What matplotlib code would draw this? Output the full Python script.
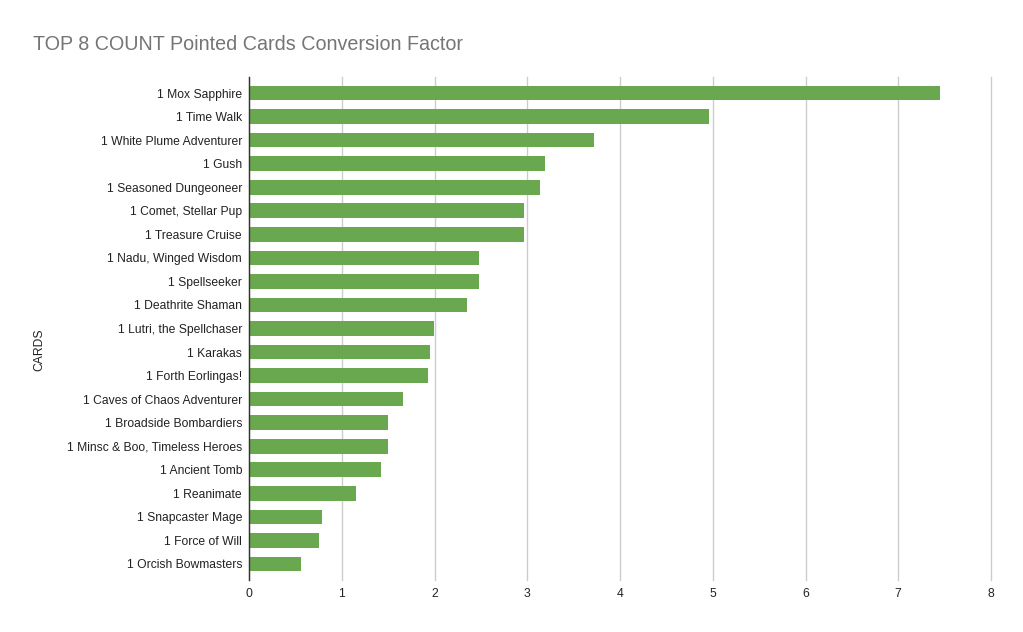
import matplotlib
matplotlib.use("Agg")
import matplotlib.pyplot as plt

cards = [
    "1 Mox Sapphire", "1 Time Walk", "1 White Plume Adventurer", "1 Gush",
    "1 Seasoned Dungeoneer", "1 Comet, Stellar Pup", "1 Treasure Cruise",
    "1 Nadu, Winged Wisdom", "1 Spellseeker", "1 Deathrite Shaman",
    "1 Lutri, the Spellchaser", "1 Karakas", "1 Forth Eorlingas!",
    "1 Caves of Chaos Adventurer", "1 Broadside Bombardiers",
    "1 Minsc & Boo, Timeless Heroes", "1 Ancient Tomb", "1 Reanimate",
    "1 Snapcaster Mage", "1 Force of Will", "1 Orcish Bowmasters",
]
factors = [7.45, 4.96, 3.72, 3.19, 3.14, 2.97, 2.97, 2.48, 2.48, 2.35,
           1.99, 1.95, 1.93, 1.66, 1.50, 1.50, 1.42, 1.15, 0.79, 0.76, 0.56]
x_ticks = [0, 1, 2, 3, 4, 5, 6, 7, 8]

plt.rcParams['font.family'] = ['Liberation Sans', 'DejaVu Sans']

fig = plt.figure(figsize=(10.23, 6.32), dpi=100)
ax = fig.add_axes([249/1023, 1-580/632, (991-249)/1023, (580-77)/632])

ypos = list(range(len(cards)))
ax.barh(ypos, factors, height=0.62, color="#6aa84f", zorder=3)
ax.set_yticks(ypos)
ax.set_yticklabels(cards, fontsize=8.7, color="#222222")
ax.set_ylim(len(cards) - 1 + 0.68, -0.68)
ax.set_xlim(0, 8)
ax.set_xticks(x_ticks)
ax.set_xticklabels([str(t) for t in x_ticks], fontsize=8.7, color="#222222")
ax.tick_params(axis='y', length=0, pad=5)
ax.tick_params(axis='x', length=0, pad=6)
ax.grid(axis='x', color="#cccccc", linewidth=1, zorder=0)
for gl in ax.get_xgridlines():
    gl.set_clip_on(False)
for s in ["top", "right", "bottom"]:
    ax.spines[s].set_visible(False)
ax.spines["left"].set_color("#333333")
ax.spines["left"].set_linewidth(1)
ax.spines["left"].set_zorder(4)

fig.text(39/1023, 1-350/632, "CARDS", rotation=90, fontsize=8.7, color="#222222",
         ha="center", va="center")
fig.text(33/1023, 1-44/632, "TOP 8 COUNT Pointed Cards Conversion Factor",
         fontsize=14.2, color="#757575", ha="left", va="center")

fig.savefig("out.png", dpi=100, facecolor="white")
